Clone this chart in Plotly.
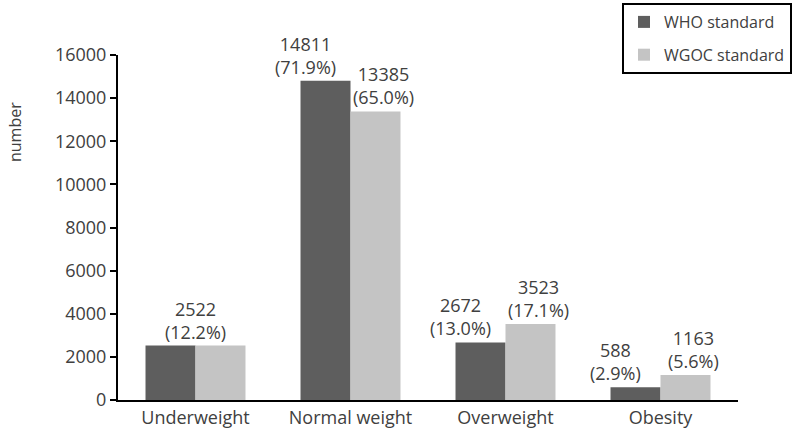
import plotly.graph_objects as go

categories = ["Underweight", "Normal weight", "Overweight", "Obesity"]
who_values = [2522, 14811, 2672, 588]
wgoc_values = [2522, 13385, 3523, 1163]
who_pct = ["12.2%", "71.9%", "13.0%", "2.9%"]
wgoc_pct = ["12.2%", "65.0%", "17.1%", "5.6%"]
y_ticks = [0, 2000, 4000, 6000, 8000, 10000, 12000, 14000, 16000]

FONT = "Open Sans, Noto Sans, sans-serif"
TXT = "#404040"
FS = 18

fig = go.Figure()
fig.add_trace(go.Bar(name="WHO standard", x=categories, y=who_values, legendgroup="a",
                     marker=dict(color="#5e5e5e", line=dict(width=0))))
fig.add_trace(go.Bar(name="WGOC standard", x=categories, y=wgoc_values, legendgroup="b",
                     marker=dict(color="#c4c4c4", line=dict(width=0))))

annotations = []
for c, a, b, pa, pb in zip(categories, who_values, wgoc_values, who_pct, wgoc_pct):
    if a == b:
        annotations.append(dict(x=c, y=a, text=f"{a}<br>({pa})", showarrow=False,
                                yanchor="bottom", xanchor="center"))
    else:
        annotations.append(dict(x=c, y=a, text=f"{a}<br>({pa})", showarrow=False,
                                yanchor="bottom", xanchor="center", xshift=-45))
        annotations.append(dict(x=c, y=b, text=f"{b}<br>({pb})", showarrow=False,
                                yanchor="bottom", xanchor="center", xshift=33))
for an in annotations:
    an["font"] = dict(family=FONT, size=FS, color=TXT)

annotations.append(dict(x=0, xref="paper", xshift=-103, xanchor="center",
                        y=(400 - 132) / 345, yref="paper", yanchor="middle",
                        text="number", textangle=-90, showarrow=False,
                        font=dict(family=FONT, size=16, color=TXT)))

fig.update_layout(
    width=800, height=440,
    margin=dict(l=118, r=62, t=55, b=40, autoexpand=False),
    paper_bgcolor="white", plot_bgcolor="white",
    barmode="group", bargap=0.355, bargroupgap=0,
    font=dict(family=FONT, size=FS, color=TXT),
    showlegend=True,
    legend=dict(x=(622 - 118) / 620, y=(400 - 3) / 345, xanchor="left", yanchor="top",
                bordercolor="black", borderwidth=2, bgcolor="white",
                tracegroupgap=9,
                font=dict(family=FONT, size=16, color=TXT)),
    annotations=annotations,
    xaxis=dict(showline=True, linecolor="black", linewidth=2, ticks="",
               tickfont=dict(family=FONT, size=FS, color=TXT), showgrid=False),
    yaxis=dict(range=[0, 16000], tickvals=y_ticks, ticktext=[str(v) for v in y_ticks],
               showline=True, linecolor="black",
               linewidth=2, ticks="outside", ticklen=6, tickwidth=2, tickcolor="black",
               showgrid=False, zeroline=False,
               tickfont=dict(family=FONT, size=FS, color=TXT)),
)
fig.write_html("out.html", config={"displayModeBar": False},
               post_script="document.body.style.margin='0';document.body.style.padding='0';")
